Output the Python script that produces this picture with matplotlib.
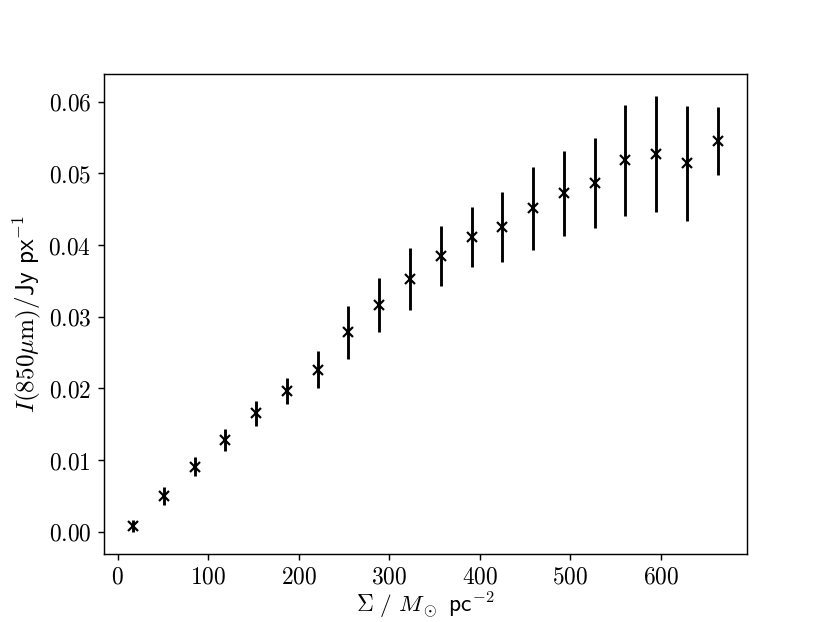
import matplotlib
matplotlib.use("Agg")
import matplotlib.pyplot as plt
from matplotlib.ticker import FormatStrFormatter

plt.rcParams['mathtext.fontset'] = 'cm'
plt.rcParams['font.family'] = ['cmss10', 'DejaVu Sans']
plt.rcParams['axes.unicode_minus'] = False

sigma = [17, 51, 85, 119, 153, 187, 221, 255, 289, 323,
         357, 391, 425, 459, 493, 527, 561, 595, 629, 663]
intensity = [0.0008, 0.0050, 0.0091, 0.0128, 0.0165, 0.0196, 0.0226, 0.0278, 0.0316, 0.0353,
             0.0385, 0.0411, 0.0425, 0.0451, 0.0472, 0.0487, 0.0518, 0.0527, 0.0514, 0.0545]
intensity_err = [0.0008, 0.0013, 0.0013, 0.0016, 0.0017, 0.0018, 0.0026, 0.0037, 0.0038, 0.0043,
                 0.0042, 0.0042, 0.0049, 0.0058, 0.0059, 0.0063, 0.0077, 0.0081, 0.0080, 0.0047]

fig, ax = plt.subplots(figsize=(6.4, 4.8), dpi=129.7)
ax.errorbar(sigma, intensity, yerr=intensity_err, fmt='x', color='black',
            ecolor='black', elinewidth=1.6, markersize=6, markeredgewidth=1.2, capsize=0)

ax.xaxis.set_major_formatter(FormatStrFormatter('$%d$'))
ax.yaxis.set_major_formatter(FormatStrFormatter('$%.2f$'))
ax.tick_params(labelsize=13)
ax.set_xlabel(r'$\Sigma\ /\ M_\odot$ pc$^{-2}$', fontsize=13, labelpad=0.5)
ax.set_ylabel(r'$I(850\mu{\rm m})/$Jy px$^{-1}$', fontsize=14, labelpad=3)

fig.savefig('out.png', dpi=129.7)
